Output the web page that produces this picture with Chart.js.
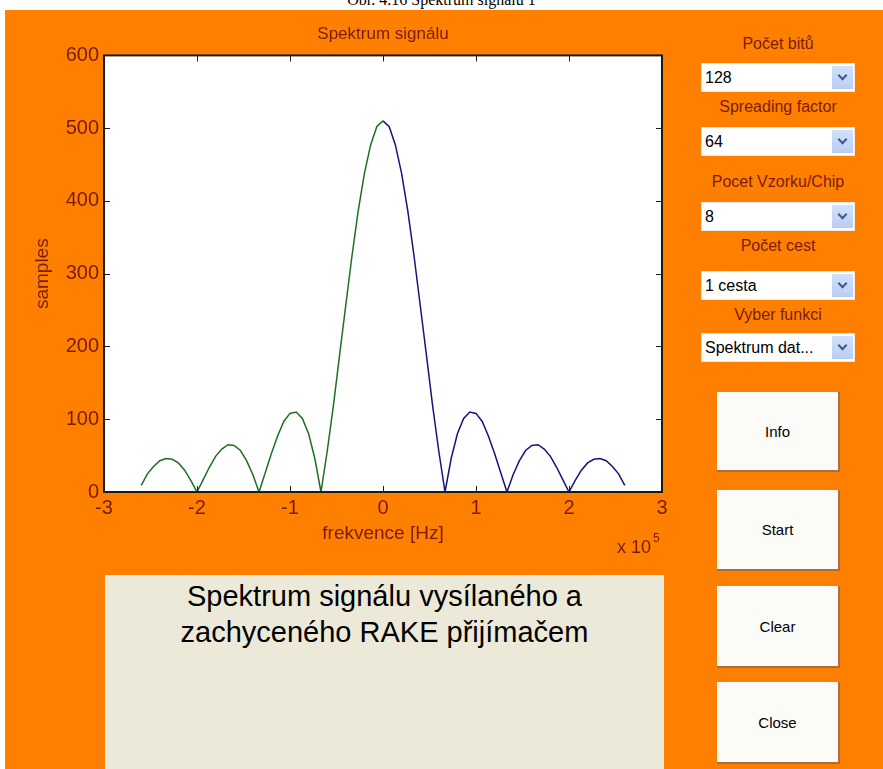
<!DOCTYPE html>
<html>
<head>
<meta charset="utf-8">
<script src="https://cdn.jsdelivr.net/npm/chart.js@4.4.1/dist/chart.umd.min.js"></script>
<style>
  body { margin: 0; width: 883px; height: 769px; overflow: hidden; background: #fff; font-family: "Liberation Sans", Arial, sans-serif; position: relative; }
  .caption { position: absolute; left: 0; width: 883px; top: -9px; line-height: 16px; text-align: center; font: 16px "Liberation Serif", "Times New Roman", serif; color: #000; }
  .panel { position: absolute; left: 5px; top: 10px; right: 0; bottom: 0; background: #ff8000; }
  #wrap { position: absolute; left: 5px; top: 10px; width: 675px; height: 555px; }
  .lbl { position: absolute; left: 690px; width: 176px; text-align: center; font-size: 16px; color: #7a1c05; line-height: 18px; }
  .combo { position: absolute; left: 701px; width: 154px; height: 29px; background: #fff; border: 1px solid #e8e8e8; box-sizing: border-box; }
  .combo span { position: absolute; left: 3px; top: 5px; font-size: 16px; color: #000; }
  .combo i { position: absolute; right: 1px; top: 2px; width: 21px; height: 23px; background: linear-gradient(#d4e1fb, #b9cdf3); }
  .combo i::after { content: ""; position: absolute; left: 7px; top: 6px; width: 5px; height: 5px; border-right: 2px solid #3d5a8f; border-bottom: 2px solid #3d5a8f; transform: rotate(45deg); }
  .btn { position: absolute; left: 717px; width: 123px; background: #fbfbf8; box-sizing: border-box; border-right: 2px solid #a8703c; border-bottom: 2px solid #a8703c; font-size: 15px; color: #000; display: flex; align-items: center; justify-content: center; }
  .info { position: absolute; left: 105px; top: 575px; width: 559px; height: 194px; background: #ece9d8; text-align: center; font-size: 29px; line-height: 36px; color: #000; padding-top: 3px; box-sizing: border-box; }
</style>
</head>
<body>
<div class="caption">Obr. 4.16 Spektrum signálu 1</div>
<div class="panel"></div>
<div id="wrap"><canvas id="spectrum" width="675" height="555"></canvas></div>

<div class="lbl" style="top:35px">Počet bitů</div>
<div class="combo" style="top:63px"><span>128</span><i></i></div>
<div class="lbl" style="top:98px">Spreading factor</div>
<div class="combo" style="top:127px"><span>64</span><i></i></div>
<div class="lbl" style="top:173px">Pocet Vzorku/Chip</div>
<div class="combo" style="top:202px"><span>8</span><i></i></div>
<div class="lbl" style="top:237px">Počet cest</div>
<div class="combo" style="top:271px"><span>1 cesta</span><i></i></div>
<div class="lbl" style="top:306px">Vyber funkci</div>
<div class="combo" style="top:333px"><span>Spektrum dat...</span><i></i></div>

<div class="btn" style="top:392px;height:80px">Info</div>
<div class="btn" style="top:490px;height:81px">Start</div>
<div class="btn" style="top:586px;height:82px">Clear</div>
<div class="btn" style="top:682px;height:82px">Close</div>

<div class="info">Spektrum signálu vysílaného a<br>zachyceného RAKE přijímačem</div>

<script>
// frequency in units of 10^5 Hz
const freqLeft = [-2.6, -2.533, -2.467, -2.4, -2.333, -2.267, -2.2, -2.133, -2.067, -2.0,
  -1.933, -1.867, -1.8, -1.733, -1.667, -1.6, -1.533, -1.467, -1.4, -1.333,
  -1.267, -1.2, -1.133, -1.067, -1.0, -0.933, -0.867, -0.8, -0.733, -0.667,
  -0.6, -0.533, -0.467, -0.4, -0.333, -0.267, -0.2, -0.133, -0.067, 0];
const greenSamples = [9, 25, 35, 43, 46, 45, 40, 30, 16, 0,
  17, 34, 49, 59, 65, 64, 57, 43, 24, 0,
  26, 53, 77, 97, 108, 110, 101, 80, 46, 0,
  56, 119, 188, 257, 325, 386, 438, 477, 502, 510];

const freqRight = [0, 0.067, 0.133, 0.2, 0.267, 0.333, 0.4, 0.467, 0.533, 0.6,
  0.667, 0.733, 0.8, 0.867, 0.933, 1.0, 1.067, 1.133, 1.2, 1.267,
  1.333, 1.4, 1.467, 1.533, 1.6, 1.667, 1.733, 1.8, 1.867, 1.933,
  2.0, 2.067, 2.133, 2.2, 2.267, 2.333, 2.4, 2.467, 2.533, 2.6];
const blueSamples = [510, 502, 477, 438, 386, 325, 257, 188, 119, 56,
  0, 46, 80, 101, 110, 108, 97, 77, 53, 26,
  0, 24, 43, 57, 64, 65, 59, 49, 34, 17,
  0, 16, 30, 40, 45, 46, 43, 35, 25, 9];

const xTicks = [-3, -2, -1, 0, 1, 2, 3];
const yTicks = [0, 100, 200, 300, 400, 500, 600];

const textColor = "#7a1c05";
const font = "Liberation Sans";

const toPoints = (xs, ys) => xs.map((x, i) => ({ x: x, y: ys[i] }));

// white axes box, inward ticks on all four sides, "x 10^5" exponent
const matlabAxes = {
  id: "matlabAxes",
  beforeDraw(chart) {
    const { ctx, chartArea: a } = chart;
    ctx.save();
    ctx.fillStyle = "#fff";
    ctx.fillRect(a.left, a.top, a.right - a.left, a.bottom - a.top);
    ctx.restore();
  },
  afterDatasetsDraw(chart) {
    const { ctx, chartArea: a, scales } = chart;
    const x = scales.x, y = scales.y;
    ctx.save();
    ctx.strokeStyle = "#1a1a1a";
    ctx.lineWidth = 1;
    ctx.beginPath();
    xTicks.forEach(v => {
      const px = Math.round(x.getPixelForValue(v)) + 0.5;
      ctx.moveTo(px, a.bottom); ctx.lineTo(px, a.bottom - 6);
      ctx.moveTo(px, a.top); ctx.lineTo(px, a.top + 6);
    });
    yTicks.forEach(v => {
      const py = Math.round(y.getPixelForValue(v)) + 0.5;
      ctx.moveTo(a.left, py); ctx.lineTo(a.left + 6, py);
      ctx.moveTo(a.right, py); ctx.lineTo(a.right - 6, py);
    });
    ctx.stroke();
    ctx.lineWidth = 2;
    ctx.strokeRect(a.left, a.top, a.right - a.left, a.bottom - a.top);

    ctx.fillStyle = textColor;
    ctx.font = "18px " + font;
    ctx.textAlign = "right";
    ctx.textBaseline = "alphabetic";
    ctx.fillText("x 10", a.right - 11, a.bottom + 61);
    ctx.font = "12px " + font;
    ctx.textAlign = "left";
    ctx.fillText("5", a.right - 9, a.bottom + 50);
    ctx.restore();
  }
};

new Chart(document.getElementById("spectrum"), {
  type: "line",
  data: {
    datasets: [
      {
        data: toPoints(freqLeft, greenSamples),
        borderColor: "#1f6f22",
        borderWidth: 1.5,
        pointRadius: 0,
        tension: 0,
      },
      {
        data: toPoints(freqRight, blueSamples),
        borderColor: "#14147a",
        borderWidth: 1.5,
        pointRadius: 0,
        tension: 0,
      },
    ],
  },
  options: {
    responsive: false,
    animation: false,
    layout: { padding: { left: 0, right: 18, top: 0, bottom: 0 } },
    plugins: {
      legend: { display: false },
      tooltip: { enabled: false },
      title: {
        display: true,
        fullSize: false,
        text: "Spektrum signálu",
        color: textColor,
        font: { family: font, size: 17, weight: "normal" },
        padding: { top: 14, bottom: 11 },
      },
    },
    scales: {
      x: {
        type: "linear",
        min: -3,
        max: 3,
        afterBuildTicks: s => { s.ticks = xTicks.map(v => ({ value: v })); },
        afterFit: s => { s.height = 73; },
        grid: { display: false, drawTicks: false },
        border: { display: false },
        ticks: { color: textColor, padding: 4, font: { family: font, size: 20 }, maxRotation: 0 },
        title: {
          display: true,
          text: "frekvence [Hz]",
          color: textColor,
          font: { family: font, size: 19 },
          padding: { top: 0, bottom: 20 },
        },
      },
      y: {
        min: 0,
        max: 600,
        afterBuildTicks: s => { s.ticks = yTicks.map(v => ({ value: v })); },
        afterFit: s => { s.width = 99; },
        grid: { display: false, drawTicks: false },
        border: { display: false },
        ticks: { color: textColor, padding: 5, font: { family: font, size: 20 } },
        title: {
          display: true,
          text: "samples",
          color: textColor,
          font: { family: font, size: 19 },
          padding: { top: 26, bottom: 0 },
        },
      },
    },
  },
  plugins: [matlabAxes],
});
</script>
</body>
</html>
